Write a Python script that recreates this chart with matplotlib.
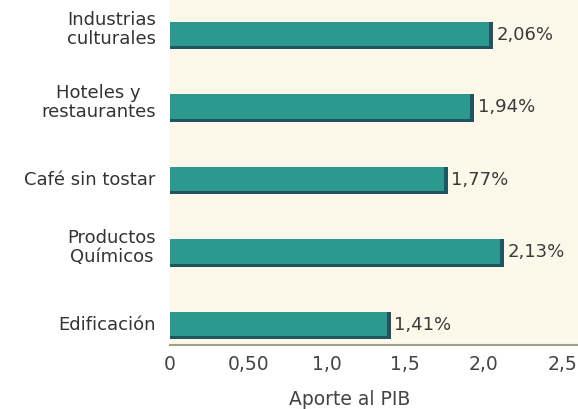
import matplotlib.pyplot as plt
import numpy as np

# Aporte al PIB por sector (%)
sectores = ["Industrias\nculturales", "Hoteles y\nrestaurantes", "Café sin tostar",
            "Productos\nQuímicos", "Edificación"]
aporte = [2.06, 1.94, 1.77, 2.13, 1.41]
etiquetas = ["2,06%", "1,94%", "1,77%", "2,13%", "1,41%"]
ticks = [0, 0.5, 1.0, 1.5, 2.0, 2.5]
tick_labels = ["0", "0,50", "1,0", "1,5", "2,0", "2,5"]

plt.rcParams['font.family'] = ['DejaVu Sans']

fig = plt.figure(figsize=(5.78, 4.09), dpi=100)
fig.patch.set_facecolor('white')
ax = fig.add_axes([0.294, 0.156, 0.706, 0.844])
ax.set_facecolor('#fdf8ea')

y = np.arange(len(sectores))
h = 0.38
vals = np.array(aporte)

# sombra oscura detrás de cada barra para dar volumen
ax.barh(y + 0.01, vals, height=h, color='#1f5460', zorder=2)
ax.barh(y - 0.012, vals - 0.025, height=h - 0.045, color='#2c988e', zorder=3)

for yi, v, t in zip(y, vals, etiquetas):
    ax.text(v + 0.02, yi, t, va='center', ha='left', fontsize=13, color='#3a3a3a', zorder=4)

# nombres de los sectores a la izquierda de cada barra
for yi, s in zip(y, sectores):
    dy = -0.07 if "\n" in s else 0
    ax.text(-0.09, yi + dy, s, ha='right', va='center', fontsize=13, color='#333333',
            multialignment='center', linespacing=1.05, clip_on=False)

ax.set_xlim(0, 2.6)
ax.set_ylim(4.28, -0.48)
ax.set_xticks(ticks)
ax.set_xticklabels(tick_labels, fontsize=13.5, color='#444444')
ax.set_yticks([])
ax.tick_params(axis='both', length=0)
ax.tick_params(axis='x', pad=7)
ax.set_xlabel("Aporte al PIB", fontsize=13.5, color='#444444')
ax.xaxis.set_label_coords(0.44, -0.13)

for s in ['top', 'right', 'left']:
    ax.spines[s].set_visible(False)
ax.spines['bottom'].set_color('#a0a08a')
ax.spines['bottom'].set_linewidth(1.5)

fig.savefig('out.png', dpi=100)
